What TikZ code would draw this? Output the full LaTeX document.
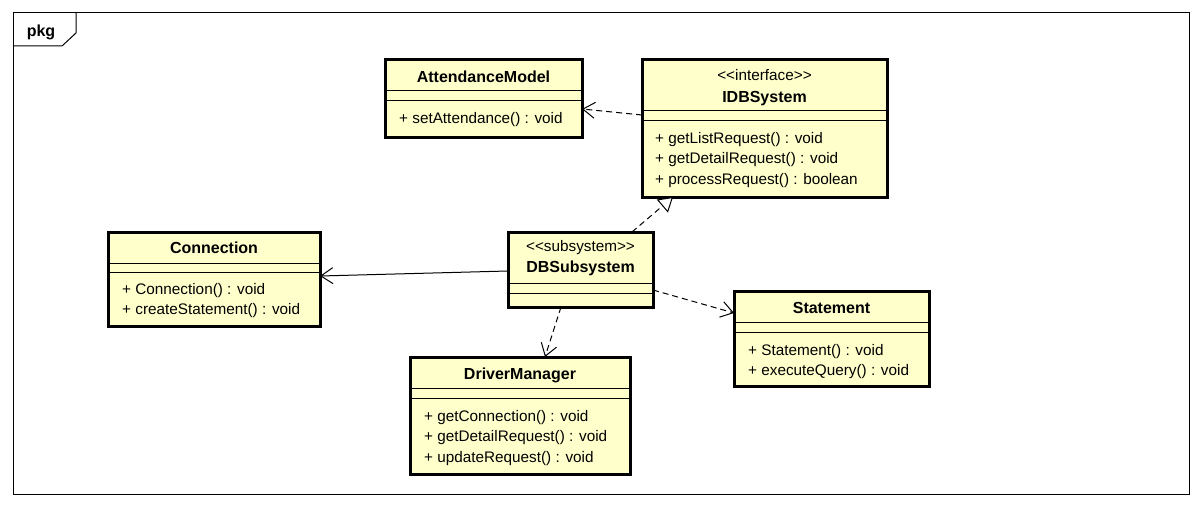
\documentclass[tikz,border=0pt]{standalone}
\usepackage{fontspec}
\setmainfont{Liberation Sans}
\usetikzlibrary{arrows.meta}
\definecolor{classfill}{RGB}{255,255,204}
\begin{document}
\begin{tikzpicture}[x=1pt,y=-1pt,
  font=\fontsize{15.3}{18}\selectfont,
  classbox/.style={draw=black, line width=3pt, fill=classfill, inner sep=0pt, outer sep=0pt},
  title/.style={anchor=base, inner sep=0pt, font=\fontsize{16}{18}\selectfont\bfseries},
  stereo/.style={anchor=base, inner sep=0pt},
  member/.style={anchor=base west, inner sep=0pt},
  sepline/.style={draw=black, line width=1pt},
  frameline/.style={draw=black, line width=1pt},
  depend/.style={draw=black, line width=1pt, dash pattern=on 6pt off 4pt,
                 -{Straight Barb[length=12pt,width=16pt,line width=1pt]}},
  realize/.style={draw=black, line width=1pt, dash pattern=on 6pt off 4pt,
                 -{Triangle[open,length=14pt,width=17pt,line width=1pt,fill=white]}},
  assoc/.style={draw=black, line width=1pt,
                 -{Straight Barb[length=12pt,width=16pt,line width=1pt]}}]

\useasboundingbox (0,0) rectangle (1202,508);
\fill[white] (0,0) rectangle (1202,508);

% package frame with its name tab
\draw[frameline] (13,13) rectangle (1189,494);
\draw[frameline] (13,46) -- (62,46) -- (76,33) -- (76,13);
\node[title] (pkgname) at (41,37) {pkg};

% AttendanceModel
\node[classbox, minimum width=197pt, minimum height=78pt] (am) at (483.5,99) {};
\node[title] (amname) at (483.5,82.5) {AttendanceModel};
\draw[sepline] (am.west |- 0,91) -- (am.east |- 0,91);
\draw[sepline] (am.west |- 0,101) -- (am.east |- 0,101);
\node[member] (am1) at (399,124) {+ setAttendance() : void};

% IDBSystem
\node[classbox, minimum width=245pt, minimum height=137pt] (idb) at (764.5,128.5) {};
\node[stereo] (idbst) at (764.5,81) {<\kern0pt<interface>\kern0pt>};
\node[title] (idbname) at (764.5,102.5) {IDBSystem};
\draw[sepline] (idb.west |- 0,111) -- (idb.east |- 0,111);
\draw[sepline] (idb.west |- 0,121) -- (idb.east |- 0,121);
\node[member] (idb1) at (655,143) {+ getListRequest() : void};
\node[member] (idb2) at (655,163.5) {+ getDetailRequest() : void};
\node[member] (idb3) at (655,184) {+ processRequest() : boolean};

% Connection
\node[classbox, minimum width=212pt, minimum height=94pt] (con) at (214,279) {};
\node[title] (conname) at (214,253.5) {Connection};
\draw[sepline] (con.west |- 0,263) -- (con.east |- 0,263);
\draw[sepline] (con.west |- 0,272) -- (con.east |- 0,272);
\node[member] (con1) at (122,294) {+ Connection() : void};
\node[member] (con2) at (122,314.5) {+ createStatement() : void};

% DBSubsystem
\node[classbox, minimum width=145pt, minimum height=75pt] (dbs) at (580.5,269.5) {};
\node[stereo] (dbsst) at (580.5,251) {<\kern0pt<subsystem>\kern0pt>};
\node[title] (dbsname) at (580.5,272.5) {DBSubsystem};
\draw[sepline] (dbs.west |- 0,283) -- (dbs.east |- 0,283);
\draw[sepline] (dbs.west |- 0,293) -- (dbs.east |- 0,293);

% DriverManager
\node[classbox, minimum width=220pt, minimum height=117pt] (dm) at (520,415.5) {};
\node[title] (dmname) at (520,379.5) {DriverManager};
\draw[sepline] (dm.west |- 0,388) -- (dm.east |- 0,388);
\draw[sepline] (dm.west |- 0,398) -- (dm.east |- 0,398);
\node[member] (dm1) at (424,421) {+ getConnection() : void};
\node[member] (dm2) at (424,441.5) {+ getDetailRequest() : void};
\node[member] (dm3) at (424,462) {+ updateRequest() : void};

% Statement
\node[classbox, minimum width=195pt, minimum height=95pt] (st) at (831.5,338.5) {};
\node[title] (stname) at (831.5,313.5) {Statement};
\draw[sepline] (st.west |- 0,322) -- (st.east |- 0,322);
\draw[sepline] (st.west |- 0,332) -- (st.east |- 0,332);
\node[member] (st1) at (748,355) {+ Statement() : void};
\node[member] (st2) at (748,375) {+ executeQuery() : void};

% relationships
\draw[depend] (idb.west |- 0,115) -- (am.east |- 0,109);
\draw[realize] (dbs.north -| 632,0) -- (idb.south -| 673,0);
\draw[assoc] (dbs.west |- 0,271) -- (con.east |- 0,276);
\draw[depend] (dbs.east |- 0,290) -- (st.west |- 0,313);
\draw[depend] (dbs.south -| 561,0) -- (dm.north -| 545,0);
\end{tikzpicture}
\end{document}
